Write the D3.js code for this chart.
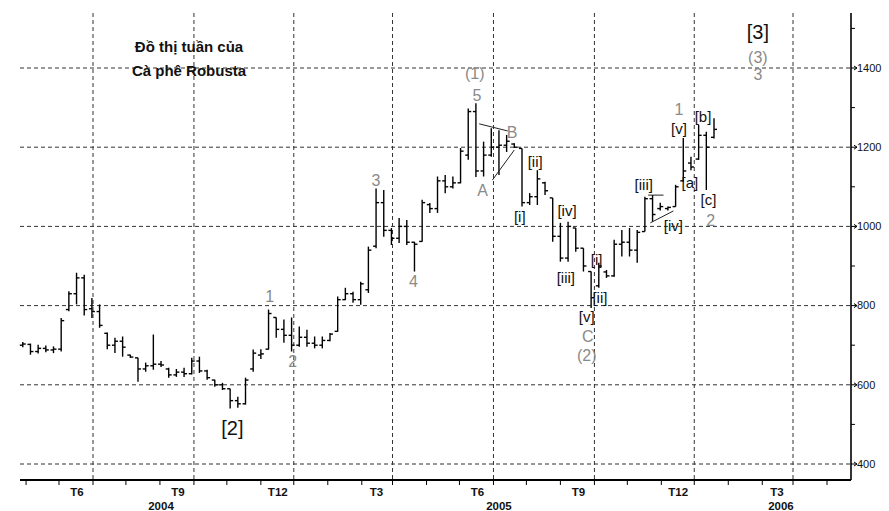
<!DOCTYPE html>
<html><head><meta charset="utf-8">
<script src="https://cdn.jsdelivr.net/npm/d3@7/dist/d3.min.js"></script>
<style>
body{margin:0;background:#fff;}
svg{display:block;font-family:"Liberation Sans",Arial,sans-serif;}
</style>
</head><body>
<svg id="chart" width="889" height="511"></svg>
<script>
// ---------- DATA ----------
const firstWeek = "2004-03-29";
const highs  = [708,704,701,699,697,769,836,883,878,819,803,732,719,722,676,668,656,727,660,643,640,643,668,671,638,613,605,590,570,618,689,690,790,770,765,770,747,739,722,722,731,823,845,835,860,949,1096,1092,996,1021,1016,961,1067,1059,1126,1130,1126,1198,1298,1311,1214,1248,1243,1231,1210,1197,1084,1142,1113,1072,1009,1012,996,945,886,908,890,966,991,996,991,1075,1079,1060,1050,1105,1223,1176,1256,1239,1273];
const lows   = [695,676,679,682,680,684,786,803,775,769,744,690,680,671,668,608,633,638,645,618,620,620,626,630,613,595,587,540,542,550,633,665,689,719,706,684,696,696,692,692,710,734,814,807,802,832,945,974,953,958,953,886,961,1034,1034,1084,1096,1109,1168,1125,1126,1176,1130,1188,1198,1050,1054,1054,1079,961,911,911,936,886,794,845,870,873,924,924,908,987,1012,1040,1040,1050,1113,1142,1168,1092,1222];
const opens  = [700,702,684,692,688,690,790,830,870,792,785,730,700,710,675,668,640,648,652,640,625,632,628,660,635,612,600,590,560,552,640,675,690,770,740,725,700,720,705,700,712,735,815,830,815,840,950,1060,990,970,1000,960,962,1055,1045,1115,1100,1110,1180,1290,1140,1180,1200,1205,1208,1197,1060,1075,1110,1072,975,920,996,945,886,850,885,875,955,960,940,987,1070,1045,1045,1050,1115,1160,1170,1230,1225];
const closes = [703,684,692,688,690,762,830,870,790,785,750,700,710,695,670,640,648,652,650,625,632,628,660,635,618,600,590,560,552,612,680,678,780,740,725,700,720,705,700,712,728,815,830,815,855,940,1060,990,970,1000,960,955,1060,1045,1115,1100,1110,1190,1290,1140,1180,1200,1205,1215,1200,1060,1075,1120,1090,975,920,1000,945,900,820,900,875,955,960,940,985,1070,1030,1050,1048,1100,1140,1150,1230,1200,1245];

const priceTicks = [400,600,800,1000,1200,1400];
const minorPriceTicks = [500,700,900,1100,1300,1500];
const monthLabels = [
  {date:"2004-06-01", text:"T6"},
  {date:"2004-09-01", text:"T9"},
  {date:"2004-12-01", text:"T12"},
  {date:"2005-03-01", text:"T3"},
  {date:"2005-06-01", text:"T6"},
  {date:"2005-09-01", text:"T9"},
  {date:"2005-12-01", text:"T12"},
  {date:"2006-03-01", text:"T3"}
];
const yearLabels = [
  {date:"2004-08-02", text:"2004"},
  {date:"2005-06-06", text:"2005"},
  {date:"2006-02-18", text:"2006"}
];
const titleLines = ["Đồ thị tuần của","Cà phê Robusta"];

// wave labels: date, price, text, kind (b = black bracket, g = grey, B = big black)
const waveLabels = [
  {date:"2004-10-06", price:491,  text:"[2]",  kind:"B"},
  {date:"2004-11-09", price:822,  text:"1",    kind:"g"},
  {date:"2004-11-30", price:658,  text:"2",    kind:"g"},
  {date:"2005-02-14", price:1117, text:"3",    kind:"g"},
  {date:"2005-03-20", price:860,  text:"4",    kind:"g"},
  {date:"2005-05-15", price:1387, text:"(1)",  kind:"g"},
  {date:"2005-05-17", price:1332, text:"5",    kind:"g"},
  {date:"2005-05-22", price:1092, text:"A",    kind:"g"},
  {date:"2005-06-18", price:1238, text:"B",    kind:"g"},
  {date:"2005-06-25", price:1024, text:"[i]",  kind:"b"},
  {date:"2005-07-09", price:1163, text:"[ii]", kind:"b"},
  {date:"2005-08-06", price:870,  text:"[iii]",kind:"b"},
  {date:"2005-08-07", price:1039, text:"[iv]", kind:"b"},
  {date:"2005-08-25", price:771,  text:"[v]",  kind:"b"},
  {date:"2005-08-26", price:723,  text:"C",    kind:"g"},
  {date:"2005-08-25", price:675,  text:"(2)",  kind:"g"},
  {date:"2005-09-03", price:915,  text:"[i]",  kind:"b"},
  {date:"2005-09-06", price:819,  text:"[ii]", kind:"b"},
  {date:"2005-10-16", price:1105, text:"[iii]",kind:"b"},
  {date:"2005-11-12", price:1001, text:"[iv]", kind:"b"},
  {date:"2005-11-17", price:1296, text:"1",    kind:"g"},
  {date:"2005-11-17", price:1246, text:"[v]",  kind:"b"},
  {date:"2005-11-27", price:1110, text:"[a]",  kind:"b"},
  {date:"2005-12-09", price:1276, text:"[b]",  kind:"b"},
  {date:"2005-12-14", price:1067, text:"[c]",  kind:"b"},
  {date:"2005-12-16", price:1016, text:"2",    kind:"g"},
  {date:"2006-01-28", price:1491, text:"[3]",  kind:"B"},
  {date:"2006-01-28", price:1428, text:"(3)",  kind:"g"},
  {date:"2006-01-28", price:1385, text:"3",    kind:"g"}
];
// trend lines: [date1, price1, date2, price2]
const trendLines = [
  ["2005-05-19",1259,"2005-06-14",1241],
  ["2005-05-31",1117,"2005-06-20",1193],
  ["2005-10-20",1079,"2005-11-03",1079],
  ["2005-10-22",1009,"2005-11-12",1039]
];

// ---------- LAYOUT ----------
const L = 20, R = 851, T = 13, B = 480;
const parse = d3.timeParse("%Y-%m-%d");
const svg = d3.select("#chart");

const x = d3.scaleTime()
  .domain([parse("2004-06-01"), parse("2006-03-01")])
  .range([93, 793]);
const y = d3.scaleLinear().domain([400, 1400]).range([464, 68]);

const start = parse(firstWeek);
const bars = highs.map((h, i) => ({
  date: d3.timeWeek.offset(start, i),
  h, l: lows[i], o: opens[i], c: closes[i]
}));

// grid horizontal
svg.append("g").selectAll("line").data(priceTicks).join("line")
  .attr("x1", L).attr("x2", R)
  .attr("y1", d => y(d)).attr("y2", d => y(d))
  .attr("stroke", "#333").attr("stroke-width", 1)
  .attr("stroke-dasharray", "4,3");

// grid vertical (quarterly month starts)
const domainStart = x.invert(L), domainEnd = x.invert(R);
const allMonths = d3.timeMonth.range(d3.timeMonth.ceil(domainStart), domainEnd);
const quarterMonths = monthLabels.map(m => parse(m.date));
svg.append("g").selectAll("line").data(quarterMonths).join("line")
  .attr("x1", d => x(d)).attr("x2", d => x(d))
  .attr("y1", T).attr("y2", B)
  .attr("stroke", "#333").attr("stroke-width", 1)
  .attr("stroke-dasharray", "4,3");

// x axis line & monthly ticks
svg.append("line").attr("x1", L).attr("x2", R).attr("y1", B).attr("y2", B)
  .attr("stroke", "#000").attr("stroke-width", 2);
svg.append("g").selectAll("line").data(allMonths).join("line")
  .attr("x1", d => x(d)).attr("x2", d => x(d))
  .attr("y1", B).attr("y2", B + 5)
  .attr("stroke", "#000").attr("stroke-width", 1);

// month labels
svg.append("g").selectAll("text").data(monthLabels).join("text")
  .attr("x", d => x(parse(d.date)) - 16)
  .attr("y", 496)
  .attr("text-anchor", "middle")
  .attr("font-size", 11.5)
  .attr("font-weight", "bold")
  .attr("fill", "#111")
  .text(d => d.text);
svg.append("g").selectAll("text").data(yearLabels).join("text")
  .attr("x", d => x(parse(d.date)))
  .attr("y", 510)
  .attr("text-anchor", "middle")
  .attr("font-size", 11.5)
  .attr("font-weight", "bold")
  .attr("fill", "#111")
  .text(d => d.text);

// right axis
svg.append("line").attr("x1", R).attr("x2", R).attr("y1", T).attr("y2", B)
  .attr("stroke", "#000").attr("stroke-width", 1.6);
svg.append("g").selectAll("line").data(minorPriceTicks.filter(v => y(v) > T)).join("line")
  .attr("x1", R).attr("x2", R + 4)
  .attr("y1", d => y(d)).attr("y2", d => y(d))
  .attr("stroke", "#000");
const pt = svg.append("g").selectAll("g").data(priceTicks).join("g")
  .attr("transform", d => `translate(${R},${y(d)})`);
pt.append("path").attr("d", "M0,0 L6,0 M3,-2 L6,0 L3,2").attr("stroke", "#000").attr("fill", "none");
pt.append("text").attr("x", 6).attr("dy", "0.35em")
  .attr("font-size", 11).attr("fill", "#111")
  .attr("font-family", "'Liberation Sans Narrow','Liberation Sans',Arial,sans-serif")
  .text(d => d);

// OHLC bars
const bg = svg.append("g").attr("stroke", "#000").attr("stroke-width", 1.4);
const bsel = bg.selectAll("g").data(bars).join("g");
bsel.append("line")
  .attr("x1", d => x(d.date)).attr("x2", d => x(d.date))
  .attr("y1", d => y(d.h)).attr("y2", d => y(d.l));
bsel.append("line")
  .attr("x1", d => x(d.date) - 3).attr("x2", d => x(d.date))
  .attr("y1", d => y(d.o)).attr("y2", d => y(d.o));
bsel.append("line")
  .attr("x1", d => x(d.date)).attr("x2", d => x(d.date) + 3)
  .attr("y1", d => y(d.c)).attr("y2", d => y(d.c));

// trend lines
svg.append("g").selectAll("line").data(trendLines).join("line")
  .attr("x1", d => x(parse(d[0]))).attr("y1", d => y(d[1]))
  .attr("x2", d => x(parse(d[2]))).attr("y2", d => y(d[3]))
  .attr("stroke", "#222").attr("stroke-width", 1);

// wave labels
const style = {
  B: {size: 20, fill: "#111", weight: "normal"},
  b: {size: 15, fill: "#111", weight: "normal"},
  g: {size: 16, fill: "#8a8a8a", weight: "normal"}
};
svg.append("g").selectAll("text").data(waveLabels).join("text")
  .attr("x", d => x(parse(d.date)))
  .attr("y", d => y(d.price))
  .attr("dy", "0.35em")
  .attr("text-anchor", "middle")
  .attr("font-size", d => style[d.kind].size)
  .attr("fill", d => style[d.kind].fill)
  .text(d => d.text);

// title
svg.append("g").selectAll("text").data(titleLines).join("text")
  .attr("x", 189).attr("y", (d, i) => 52 + i * 24)
  .attr("text-anchor", "middle")
  .attr("font-size", 15).attr("font-weight", "bold")
  .attr("fill", "#111")
  .text(d => d);
</script>
</body></html>
